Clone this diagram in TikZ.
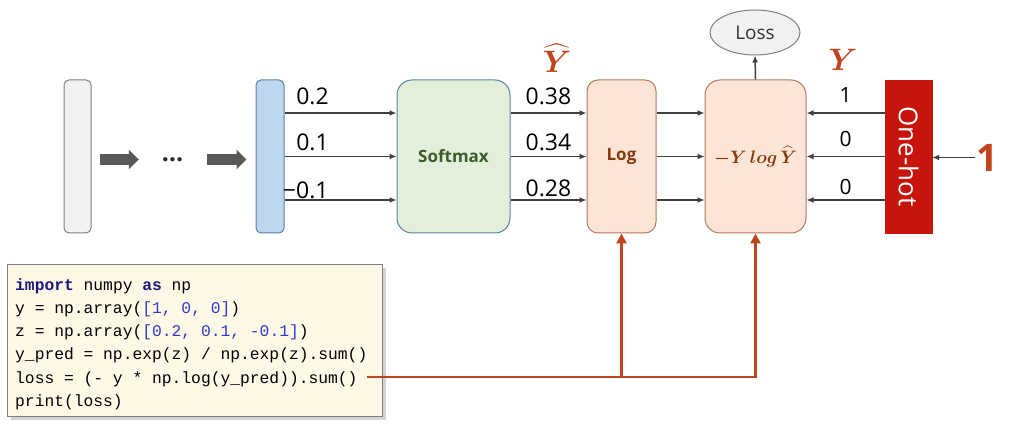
\documentclass[tikz,border=0pt]{standalone}
\usepackage{fix-cm}
\usepackage{fontspec}
\setmainfont{Open Sans}
\setmonofont{Liberation Mono}
\usepackage{amsmath,bm}
\usetikzlibrary{arrows.meta,shapes.geometric,shadows}

\definecolor{greyFill}{HTML}{F2F2F2}
\definecolor{greyLine}{HTML}{7F7F7F}
\definecolor{blueFill}{HTML}{BDD7EE}
\definecolor{blueLine}{HTML}{5A7FA8}
\definecolor{greenFill}{HTML}{E2EFDA}
\definecolor{greenText}{HTML}{3E5C2A}
\definecolor{peachFill}{HTML}{FCE4D6}
\definecolor{peachLine}{HTML}{B07A5C}
\definecolor{brownText}{HTML}{843C0C}
\definecolor{hotRed}{HTML}{C8150C}
\definecolor{lblRed}{HTML}{C0441C}
\definecolor{connGray}{HTML}{404040}
\definecolor{fatGray}{HTML}{595959}
\definecolor{codeFill}{HTML}{FFF8E6}
\definecolor{kwBlue}{HTML}{1A1A7A}
\definecolor{numBlue}{HTML}{2E3BC8}

\begin{document}
\begin{tikzpicture}[x=1pt,y=1pt,
    vbar/.style={draw, line width=1pt, rounded corners=5pt, minimum width=27, minimum height=153, inner sep=0},
    block/.style={draw, line width=1pt, minimum height=153, inner sep=0, font=\fontsize{17}{17}\selectfont\bfseries},
    conn/.style={draw=connGray, line width=1.5pt, -{Latex[length=7pt,width=6pt]}},
    fat/.style={draw=fatGray, line width=11pt, -{Triangle[length=10pt,width=19pt]}},
    redconn/.style={draw=lblRed, line width=2.5pt, -{Triangle[length=10pt,width=10pt]}},
    val/.style={anchor=base, inner sep=0, yshift=8, font=\fontsize{23}{23}\selectfont},
    redlbl/.style={text=lblRed, inner sep=0, font=\fontsize{31}{31}\selectfont}]
    \useasboundingbox (0,0) rectangle (1022,427);

    % rows of the three values
    \coordinate (r1) at (0,314);
    \coordinate (r2) at (0,270.5);
    \coordinate (r3) at (0,227);

    \node[vbar, fill=greyFill, draw=greyLine] (grey) at (77.5,270.5) {};
    \node[inner sep=0, minimum width=44, font=\fontsize{25}{25}\selectfont\bfseries, text=black!85] (dots) at (172.5,267.5) {…};
    \node[vbar, fill=blueFill, draw=blueLine, minimum width=28] (blue) at (270,270.5) {};
    \node[block, fill=greenFill, draw=blueLine, rounded corners=15pt, minimum width=113, text=greenText] (soft) at (453.5,270.5) {Softmax};
    \node[block, fill=peachFill, draw=peachLine, rounded corners=11pt, minimum width=69, text=brownText] (log) at (621.5,270.5) {Log};
    \node[block, fill=peachFill, draw=peachLine, rounded corners=15pt, minimum width=101, text=brownText, font=\fontsize{18}{18}\selectfont] (loss) at (755.5,270.5) {$\bm{-Y\,log\,\widehat{Y}}$};
    \node[draw=hotRed, fill=hotRed, minimum width=47, minimum height=153, inner sep=0] (onehot) at (908.5,270.5) {};
    \node[rotate=-90, text=white, inner sep=0, font=\fontsize{26}{26}\selectfont] (onehotText) at (onehot) {One-hot};
    \node[ellipse, draw=greyLine, line width=1pt, fill=greyFill, minimum width=90, minimum height=45, font=\fontsize{19}{19}\selectfont, text=black!80] (lossOut) at (755,394.5) {Loss};
    \node[inner sep=1, font=\fontsize{38}{38}\selectfont, text=lblRed] (one) at (987.5,269.5) {$\mathbf{1}$};

    \node[redlbl] (yhatLbl) at (557,369) {$\bm{\widehat{Y}}$};
    \node[redlbl] (yLbl) at (843,367) {$\bm{Y}$};

    \draw[fat, shorten <=8, shorten >=11.5] (grey.east |- dots.west) -- (dots.west);
    \draw[fat, shorten <=12.5, shorten >=9] (dots.east) -- (blue.west |- dots.east);

    \draw[conn] (blue.east |- r1) -- node[val, pos=.25] {0.2} (soft.west |- r1);
    \draw[conn] (blue.east |- r2) -- node[val, pos=.25, yshift=-2] {0.1} (soft.west |- r2);
    \draw[conn] (blue.east |- r3) -- node[val, pos=.19, yshift=-7] {−0.1} (soft.west |- r3);

    \draw[conn] (soft.east |- r1) -- node[val] {0.38} (log.west |- r1);
    \draw[conn] (soft.east |- r2) -- node[val, yshift=-2] {0.34} (log.west |- r2);
    \draw[conn] (soft.east |- r3) -- node[val, yshift=-5] {0.28} (log.west |- r3);

    \foreach \r in {r1,r2,r3}
        \draw[conn] (log.east |- \r) -- (loss.west |- \r);

    \draw[conn] (onehot.west |- r1) -- node[val, yshift=2, font=\fontsize{21}{21}\selectfont] {1} (loss.east |- r1);
    \draw[conn] (onehot.west |- r2) -- node[val, yshift=2, font=\fontsize{21}{21}\selectfont] {0} (loss.east |- r2);
    \draw[conn] (onehot.west |- r3) -- node[val, yshift=-3, font=\fontsize{21}{21}\selectfont] {0} (loss.east |- r3);

    \draw[conn] (loss.north) -- (lossOut.south);
    \draw[conn] (one.west) -- (onehot.east |- one.west);

    % code
    \node[draw=greyLine, line width=1pt, fill=codeFill, minimum width=375, minimum height=152, inner sep=0,
          drop shadow={shadow xshift=3pt, shadow yshift=-3pt, opacity=.35}] (code) at (195,86) {};
    \node[anchor=north west, align=left, inner sep=0, font=\fontsize{16.3}{23.3}\selectfont\ttfamily] (codeText) at (15,149)
        {\textcolor{kwBlue}{\textbf{import}} numpy \textcolor{kwBlue}{\textbf{as}} np\\
         y = np.array(\textcolor{numBlue}{[1, 0, 0]})\\
         z = np.array(\textcolor{numBlue}{[0.2, 0.1, -0.1]})\\
         y\_pred = np.exp(z) / np.exp(z).sum()\\
         loss = (- y * np.log(y\_pred)).sum()\\
         print(loss)};

    \coordinate (codeEnd) at (367,50);
    \coordinate (fork) at (log.south |- codeEnd);
    \draw[redconn] (codeEnd) -| (loss.south);
    \draw[redconn] (fork) -- (log.south);
\end{tikzpicture}
\end{document}
